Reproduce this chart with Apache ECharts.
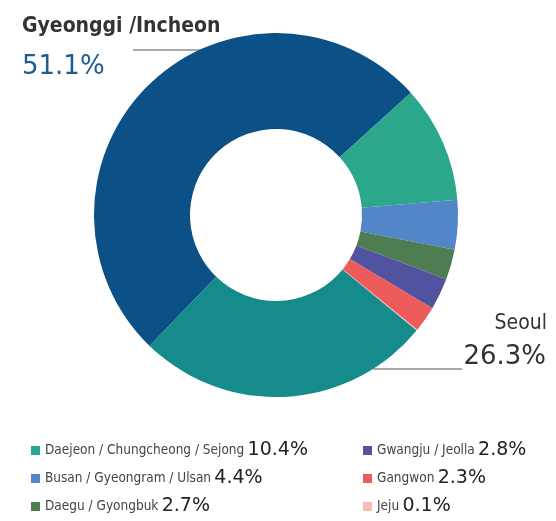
<!DOCTYPE html>
<html>
<head>
<meta charset="utf-8">
<script src="https://cdn.jsdelivr.net/npm/echarts@6/dist/echarts.min.js"></script>
<style>html,body{margin:0;padding:0;background:#fff;}#c{width:556px;height:521px;}</style>
</head>
<body>
<div id="c"></div>
<script>
const categories = ['Gyeonggi /Incheon', 'Daejeon / Chungcheong / Sejong', 'Busan / Gyeongram / Ulsan', 'Daegu / Gyongbuk', 'Gwangju / Jeolla', 'Gangwon', 'Jeju', 'Seoul'];
const values = [51.1, 10.4, 4.4, 2.7, 2.8, 2.3, 0.1, 26.3];
const colors = ['#0b5188', '#2ba78c', '#5386c8', '#4f7d52', '#5253a0', '#ee5b5b', '#f5bcb5', '#168b8c'];
const legendCol1 = [categories[1], categories[2], categories[3]];
const legendCol2 = [categories[4], categories[5], categories[6]];

const pct = v => v.toFixed(1) + '%';
const valueOf = name => values[categories.indexOf(name)];
const COND = '"DejaVu Sans Condensed", "Liberation Sans Narrow", "Arial Narrow", sans-serif';

const chart = echarts.init(document.getElementById('c'));
const legendBase = {
  orient: 'vertical',
  top: 441,
  padding: 0,
  itemWidth: 9,
  itemHeight: 9,
  itemGap: 9,
  icon: 'rect',
  selectedMode: false,
  formatter: name => '{n|' + name + '} {v|' + pct(valueOf(name)) + '}',
  textStyle: {
    rich: {
      n: { fontFamily: COND, fontSize: 13.5, color: '#444', lineHeight: 20 },
      v: { fontFamily: 'DejaVu Sans', fontSize: 19, color: '#222', lineHeight: 20 }
    }
  }
};

chart.setOption({
  animation: false,
  color: colors,
  legend: [
    Object.assign({}, legendBase, { left: 31, data: legendCol1 }),
    Object.assign({}, legendBase, { left: 363, data: legendCol2 })
  ],
  series: [{
    type: 'pie',
    center: [276, 215],
    radius: [86, 182],
    startAngle: 226,
    clockwise: true,
    silent: true,
    avoidLabelOverlap: false,
    label: { show: false },
    labelLine: { show: false },
    data: categories.map((c, i) => ({ name: c, value: values[i] }))
  }],
  graphic: [
    { type: 'text', x: 22, y: 16, style: { text: categories[0], font: 'bold 21px ' + COND, fill: '#333' } },
    { type: 'text', x: 22, y: 54, style: { text: pct(values[0]), font: '26px "DejaVu Sans"', fill: '#1b5d8f' } },
    { type: 'line', shape: { x1: 133, y1: 50, x2: 218, y2: 50 }, style: { stroke: '#555', lineWidth: 1 } },
    { type: 'text', x: 547, y: 313, style: { text: categories[7], font: '21px ' + COND, fill: '#333', textAlign: 'right' } },
    { type: 'text', x: 546, y: 344, style: { text: pct(values[7]), font: '26px "DejaVu Sans"', fill: '#333', textAlign: 'right' } },
    { type: 'line', shape: { x1: 373, y1: 369, x2: 462, y2: 369 }, style: { stroke: '#555', lineWidth: 1 } }
  ]
});
</script>
</body>
</html>
